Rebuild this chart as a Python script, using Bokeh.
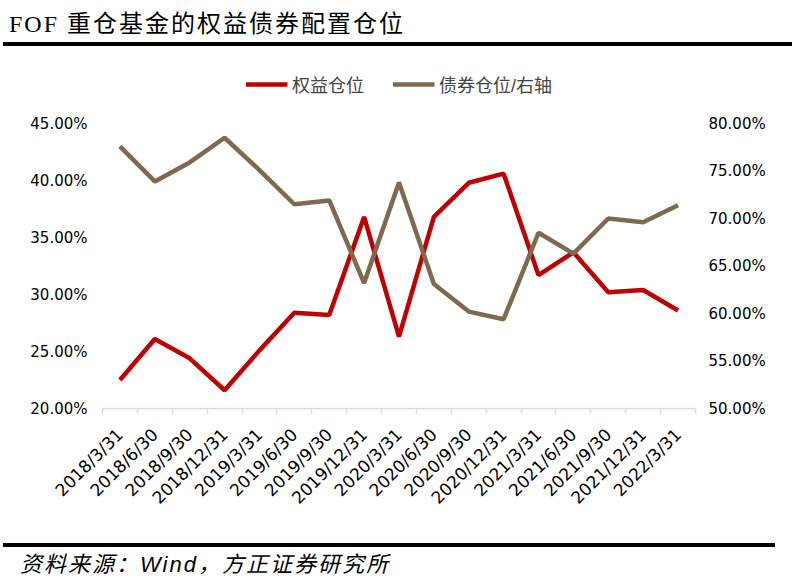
from bokeh.plotting import figure
from bokeh.layouts import column
from bokeh.models import (Range1d, LinearAxis, FixedTicker, PrintfTickFormatter,
                          Legend, LegendItem, ColumnDataSource, Div)
from bokeh.embed import file_html
from bokeh.resources import INLINE
import math

# ---- data ----
dates = ["2018/3/31", "2018/6/30", "2018/9/30", "2018/12/31", "2019/3/31", "2019/6/30",
         "2019/9/30", "2019/12/31", "2020/3/31", "2020/6/30", "2020/9/30", "2020/12/31",
         "2021/3/31", "2021/6/30", "2021/9/30", "2021/12/31", "2022/3/31"]
equity = [22.5, 26.1, 24.4, 21.6, 25.1, 28.4, 28.2, 36.8, 26.3, 36.8, 39.8, 40.6,
          31.7, 33.7, 30.2, 30.4, 28.6]          # 权益仓位 (left axis, %)
bond = [77.6, 73.9, 75.9, 78.5, 75.1, 71.5, 71.9, 63.2, 73.8, 63.1, 60.2, 59.4,
        68.5, 66.3, 70.0, 69.6, 71.4]            # 债券仓位 (right axis, %)
left_ticks = [20, 25, 30, 35, 40, 45]
right_ticks = [50, 55, 60, 65, 70, 75, 80]
title_text = "FOF 重仓基金的权益债券配置仓位"
source_text = "资料来源：Wind，方正证券研究所"
equity_name = "权益仓位"
bond_name = "债券仓位/右轴"

RED = "#C00000"
BROWN = "#7E6B4F"
GRAY = "#d9d9d9"
CJK = "Liberation Sans, Noto Sans CJK SC"
TICK_FONT = "DejaVu Sans"

# layout constants (pixels)
DATA_BAND = 285      # height of the 20%..45% band
TOP_PAD = 65         # room above the band (holds the legend) inside the frame

# ---- header ----
head = Div(width=800, height=50, margin=0, text=(
    '<div style="position:relative;width:800px;height:50px;margin:0;padding:0;">'
    '<div style="position:absolute;left:9px;top:9px;font-family:\'Liberation Serif\',\'Noto Sans CJK SC\';'
    'font-size:24px;letter-spacing:2px;line-height:30px;color:black;white-space:nowrap;">' + title_text + '</div>'
    '<div style="position:absolute;left:3px;top:42px;width:789px;height:4px;background:black;"></div>'
    '</div>'))

# ---- main chart ----
idx = list(range(len(dates)))
src = ColumnDataSource(dict(x=idx, equity=equity, bond=bond))

l0, l1 = left_ticks[0], left_ticks[-1]
r0, r1_ = right_ticks[0], right_ticks[-1]
p = figure(width=800, height=480, output_backend="svg", toolbar_location=None,
           x_range=Range1d(-0.5, len(dates) - 0.5),
           y_range=Range1d(l0, l1 + (l1 - l0) * TOP_PAD / DATA_BAND),
           min_border_left=102, min_border_right=105,
           min_border_top=8, min_border_bottom=122,
           outline_line_color=None, background_fill_color="white",
           border_fill_color="white", margin=0)
p.extra_y_ranges = {"right": Range1d(r0, r1_ + (r1_ - r0) * TOP_PAD / DATA_BAND)}
p.xgrid.visible = False
p.ygrid.visible = False

r1 = p.line("x", "equity", source=src, line_color=RED, line_width=4.5)
r2 = p.line("x", "bond", source=src, line_color=BROWN, line_width=4.5, y_range_name="right")

xa = p.xaxis[0]
xa.ticker = FixedTicker(ticks=idx, minor_ticks=[i - 0.5 for i in range(len(dates) + 1)])
xa.major_label_overrides = {i: d for i, d in enumerate(dates)}
xa.major_label_orientation = math.pi / 4
xa.axis_line_color = GRAY
xa.axis_line_width = 1.5
xa.major_tick_line_color = None
xa.major_tick_out = 0
xa.major_tick_in = 0
xa.minor_tick_line_color = GRAY
xa.minor_tick_line_width = 1.5
xa.minor_tick_out = 5
xa.minor_tick_in = 0
xa.major_label_standoff = 18
xa.major_label_text_font = TICK_FONT
xa.major_label_text_font_size = "17px"
xa.major_label_text_color = "black"

ya = p.yaxis[0]
ya.ticker = FixedTicker(ticks=left_ticks)
ya.formatter = PrintfTickFormatter(format="%.2f%%")
ya.axis_line_color = None
ya.major_tick_line_color = None
ya.minor_tick_line_color = None
ya.major_tick_out = 0
ya.major_label_standoff = 15
ya.major_label_text_font = TICK_FONT
ya.major_label_text_font_size = "15px"
ya.major_label_text_color = "black"

ra = LinearAxis(y_range_name="right")
ra.ticker = FixedTicker(ticks=right_ticks)
ra.formatter = PrintfTickFormatter(format="%.2f%%")
ra.axis_line_color = None
ra.major_tick_line_color = None
ra.minor_tick_line_color = None
ra.major_tick_out = 0
ra.major_label_standoff = 13
ra.major_label_text_font = TICK_FONT
ra.major_label_text_font_size = "15px"
ra.major_label_text_color = "black"
p.add_layout(ra, "right")

legend = Legend(items=[LegendItem(label=equity_name, renderers=[r1]),
                       LegendItem(label=bond_name, renderers=[r2])],
                orientation="horizontal", location="top_center",
                glyph_width=42, glyph_height=16, label_standoff=5, spacing=28,
                label_text_font=CJK, label_text_font_size="18px",
                border_line_color=None, background_fill_alpha=0, padding=4, margin=13)
p.add_layout(legend, "center")

# ---- footer: rule drawn as the top border of the source line ----
foot = Div(width=800, height=55, margin=0, text=(
    '<div style="position:relative;width:800px;height:55px;margin:0;padding:0;">'
    '<div style="position:absolute;left:3px;top:13px;width:772px;border-top:4px solid #000;'
    'padding:3px 0 0 17px;font-family:\'Liberation Sans\',\'Noto Sans CJK SC\';'
    'font-style:italic;font-size:22px;letter-spacing:2px;line-height:30px;color:black;white-space:nowrap;">'
    + source_text + '</div>'
    '</div>'))

layout = column(head, p, foot, spacing=0, margin=0)
open("out.html", "w").write(file_html(layout, INLINE))
